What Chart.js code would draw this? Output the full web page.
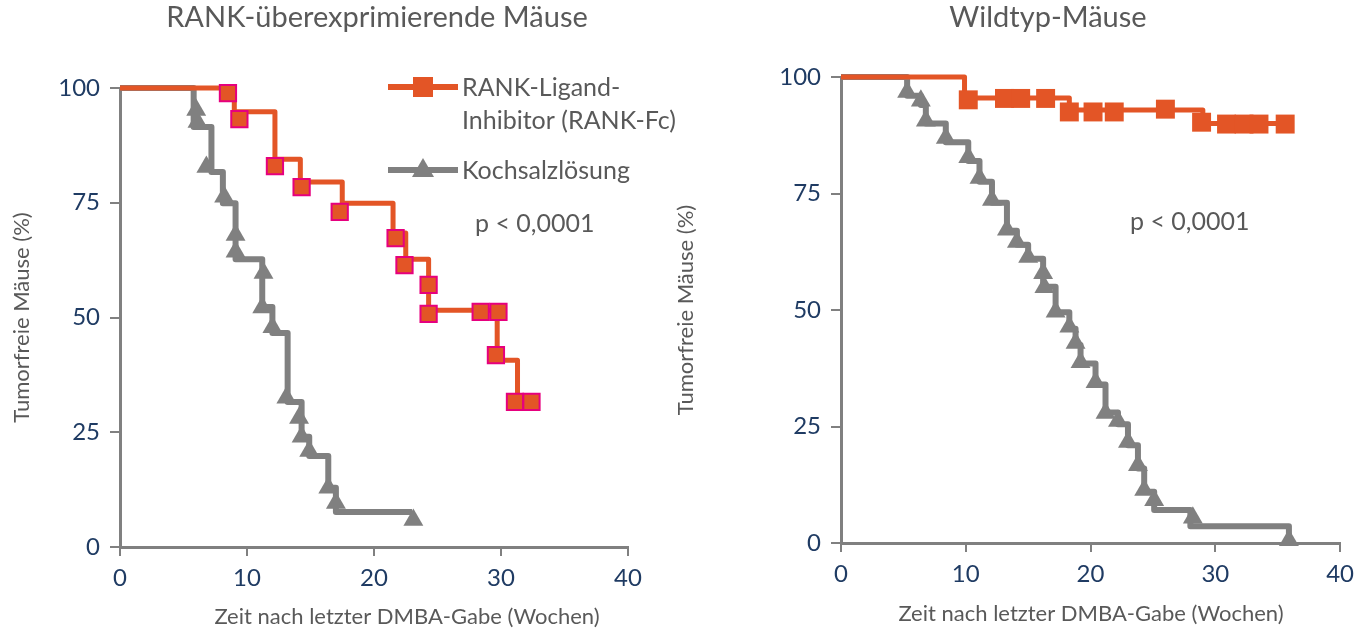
<!DOCTYPE html>
<html>
<head>
<meta charset="utf-8">
<script src="https://cdn.jsdelivr.net/npm/chart.js@4.4.1/dist/chart.umd.min.js"></script>
<style>
  body { margin: 0; background: #fff; }
  .wrap { position: relative; width: 1362px; height: 630px; overflow: hidden; }
  #leftChart { position: absolute; left: 0; top: 0; }
  #rightChart { position: absolute; left: 660px; top: 0; }
</style>
</head>
<body>
<div class="wrap">
  <canvas id="leftChart" width="720" height="630"></canvas>
  <canvas id="rightChart" width="702" height="630"></canvas>
</div>
<script>
const xTicks = [0, 10, 20, 30, 40];
const yTicks = [0, 25, 50, 75, 100];

// left: RANK-überexprimierende Mäuse
const leftFcLineX = [0, 9.0, 12.2, 14.2, 17.5, 21.5, 22.5, 24.3, 29.7, 31.3, 32.5];
const leftFcLineY = [100, 94.8, 84.5, 79.5, 74.9, 68.4, 62.7, 51.6, 40.7, 31.6, 31.6];
const leftFcMarkX = [8.5, 9.4, 12.2, 14.3, 17.3, 21.7, 22.4, 24.3, 24.3, 28.4, 29.8, 29.6, 31.1, 32.4];
const leftFcMarkY = [98.9, 93.2, 83.0, 78.4, 73.0, 67.3, 61.4, 57.1, 50.8, 51.2, 51.2, 41.8, 31.6, 31.6];

const leftSalLineX = [0, 5.8, 7.2, 8.1, 9.1, 11.2, 12.0, 13.2, 14.3, 14.9, 16.4, 17.0, 23.0];
const leftSalLineY = [100, 91.5, 81.7, 74.9, 62.7, 52.3, 46.6, 31.6, 24.0, 19.8, 12.9, 7.6, 7.6];
const leftSalMarkX = [6.0, 6.1, 6.8, 8.2, 9.1, 9.1, 11.3, 11.2, 12.0, 13.1, 14.1, 14.3, 14.9, 16.4, 17.0, 23.1];
const leftSalMarkY = [95.2, 92.6, 82.8, 76.3, 68.0, 64.3, 59.7, 52.2, 47.9, 32.5, 28.1, 24.0, 20.9, 12.9, 9.6, 5.9];

// right: Wildtyp-Mäuse
const rightFcLineX = [0, 9.9, 18.3, 29.0, 35.8];
const rightFcLineY = [100, 95.5, 92.9, 90.0, 90.0];
const rightFcMarkX = [10.2, 13.1, 14.4, 16.4, 18.3, 20.2, 21.9, 26.0, 28.9, 30.9, 32.3, 33.5, 35.6];
const rightFcMarkY = [95.1, 95.4, 95.4, 95.4, 92.5, 92.5, 92.5, 93.1, 90.3, 89.9, 89.9, 89.9, 89.9];

const rightSalLineX = [0, 5.3, 6.4, 6.8, 8.4, 10.2, 11.1, 12.1, 13.3, 14.1, 15.0, 16.2, 17.2, 18.3, 18.8, 19.2, 20.4, 21.2, 22.2, 23.0, 23.8, 24.3, 25.1, 28.0, 35.9];
const rightSalLineY = [100, 96, 94, 90, 86, 82, 77.5, 73, 67, 64, 61, 55, 49.5, 46, 42.5, 38.5, 34, 28, 25.5, 21, 16, 11, 7.1, 3.6, 0];
const rightSalMarkX = [5.3, 6.4, 6.8, 8.4, 10.2, 11.1, 12.1, 13.3, 14.1, 15.0, 16.2, 16.3, 17.2, 18.3, 18.8, 19.2, 20.4, 21.2, 22.2, 23.0, 23.8, 24.3, 25.1, 28.2, 35.9];
const rightSalMarkY = [96.8, 94.9, 90.6, 86.9, 82.8, 78.3, 73.6, 67.2, 64.6, 61.4, 57.9, 54.9, 49.6, 46.4, 42.9, 38.8, 34.5, 27.9, 26.2, 21.7, 16.7, 11.4, 9.2, 5.4, 0.6];

const ORANGE = "#E35526";
const MAGENTA = "#E6007E";
const GREY = "#808080";
const TEXTGREY = "#595959";
const NAVY = "#1F3B63";
const FONT = "Lato";

const pts = (xs, ys) => xs.map((x, i) => ({ x: x, y: ys[i] }));

// titles, x axis title, legend and p-value drawn on top
const textPlugin = {
  id: "texts",
  afterDraw(chart, args, opts) {
    const ctx = chart.ctx;
    ctx.save();
    ctx.fillStyle = TEXTGREY;
    ctx.textBaseline = "middle";
    ctx.textAlign = "center";
    ctx.font = "29px " + FONT;
    ctx.fillText(opts.title, opts.titleX, opts.titleY);

    ctx.font = "22px " + FONT;
    ctx.fillText("Zeit nach letzter DMBA-Gabe (Wochen)", opts.xTitleX, opts.xTitleY);

    ctx.textAlign = "left";
    ctx.font = "25px " + FONT;
    ctx.fillText(opts.pText, opts.pX, opts.pY);

    (opts.legend || []).forEach(item => {
      ctx.strokeStyle = item.color;
      ctx.lineWidth = 6;
      ctx.beginPath();
      ctx.moveTo(388, item.y);
      ctx.lineTo(458, item.y);
      ctx.stroke();
      ctx.fillStyle = item.color;
      if (item.style == "rect") {
        ctx.fillRect(413, item.y - 10, 20, 20);
      } else {
        ctx.beginPath();
        ctx.moveTo(423, item.y - 12);
        ctx.lineTo(434, item.y + 7);
        ctx.lineTo(412, item.y + 7);
        ctx.closePath();
        ctx.fill();
      }
      ctx.fillStyle = TEXTGREY;
      item.lines.forEach((t, i) => ctx.fillText(t, 462, item.y + 1 + i * 33));
    });
    ctx.restore();
  }
};

function makeChart(id, d, layout, texts) {
  const datasets = [
    {
      data: pts(d.fcMarkX, d.fcMarkY),
      showLine: false,
      pointStyle: "rect",
      pointRadius: d.rectRadius,
      pointBackgroundColor: ORANGE,
      pointBorderColor: d.rectBorder,
      pointBorderWidth: d.rectBorderWidth,
      clip: false
    },
    {
      data: pts(d.fcLineX, d.fcLineY),
      stepped: true,
      borderColor: ORANGE,
      borderWidth: 5,
      borderJoinStyle: "round",
      pointRadius: 0,
      fill: false,
      clip: false
    },
    {
      data: pts(d.salMarkX, d.salMarkY),
      showLine: false,
      pointStyle: "triangle",
      pointRadius: 11.5,
      pointBackgroundColor: GREY,
      pointBorderColor: GREY,
      pointBorderWidth: 0,
      clip: false
    },
    {
      data: pts(d.salLineX, d.salLineY),
      stepped: true,
      borderColor: GREY,
      borderWidth: 6,
      borderJoinStyle: "round",
      pointRadius: 0,
      fill: false,
      clip: false
    }
  ];

  return new Chart(document.getElementById(id), {
    type: "line",
    data: { datasets: datasets },
    plugins: [textPlugin],
    options: {
      responsive: false,
      animation: false,
      events: [],
      layout: { padding: { left: 0, top: layout.top, right: layout.right, bottom: 0 } },
      plugins: {
        legend: { display: false },
        tooltip: { enabled: false },
        texts: texts
      },
      scales: {
        x: {
          type: "linear",
          min: 0,
          max: 40,
          afterBuildTicks: s => { s.ticks = xTicks.map(v => ({ value: v })); },
          afterFit: s => { s.height = layout.xHeight; },
          grid: { drawOnChartArea: false, drawTicks: true, tickLength: 9, color: GREY, lineWidth: 2 },
          border: { display: true, color: GREY, width: 3 },
          ticks: { color: NAVY, font: { family: FONT, size: 24 }, padding: 8, maxRotation: 0 }
        },
        y: {
          min: 0,
          max: 100,
          afterBuildTicks: s => { s.ticks = yTicks.map(v => ({ value: v })); },
          afterFit: s => { s.width = layout.yWidth; },
          grid: { drawOnChartArea: false, drawTicks: true, tickLength: 10, color: GREY, lineWidth: 2 },
          border: { display: true, color: GREY, width: 3 },
          ticks: { color: NAVY, font: { family: FONT, size: 24 }, padding: 10 },
          title: { display: true, text: "Tumorfreie Mäuse (%)", color: TEXTGREY, font: { family: FONT, size: 22 }, padding: { top: layout.yTitlePad, bottom: 0 } }
        }
      }
    }
  });
}

makeChart("leftChart",
  {
    fcLineX: leftFcLineX, fcLineY: leftFcLineY, fcMarkX: leftFcMarkX, fcMarkY: leftFcMarkY,
    salLineX: leftSalLineX, salLineY: leftSalLineY, salMarkX: leftSalMarkX, salMarkY: leftSalMarkY,
    rectRadius: 11.5, rectBorder: MAGENTA, rectBorderWidth: 2
  },
  { top: 88, right: 92, xHeight: 83, yWidth: 120, yTitlePad: 9 },
  {
    title: "RANK-überexprimierende Mäuse", titleX: 377, titleY: 18,
    xTitleX: 407, xTitleY: 617,
    pText: "p < 0,0001", pX: 475, pY: 224,
    legend: [
      { lines: ["RANK-Ligand-", "Inhibitor (RANK-Fc)"], color: ORANGE, style: "rect", y: 87 },
      { lines: ["Kochsalzlösung"], color: GREY, style: "triangle", y: 170 }
    ]
  });

makeChart("rightChart",
  {
    fcLineX: rightFcLineX, fcLineY: rightFcLineY, fcMarkX: rightFcMarkX, fcMarkY: rightFcMarkY,
    salLineX: rightSalLineX, salLineY: rightSalLineY, salMarkX: rightSalMarkX, salMarkY: rightSalMarkY,
    rectRadius: 13.4, rectBorder: ORANGE, rectBorderWidth: 0
  },
  { top: 77, right: 13, xHeight: 87, yWidth: 181, yTitlePad: 13 },
  {
    title: "Wildtyp-Mäuse", titleX: 388, titleY: 18,
    xTitleX: 431, xTitleY: 614,
    pText: "p < 0,0001", pX: 470, pY: 222,
    legend: []
  });
</script>
</body>
</html>
